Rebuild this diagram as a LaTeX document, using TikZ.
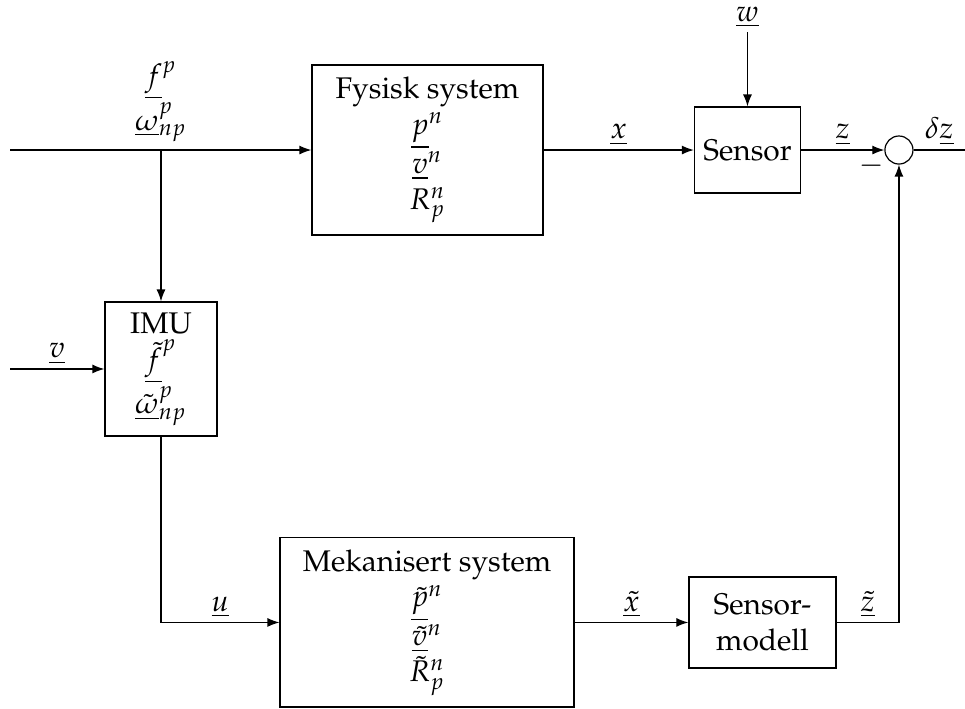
\documentclass[tikz,border=0pt]{standalone}
\usepackage[T1]{fontenc}
\usepackage{amsmath,amssymb}
\usepackage{mathpazo}
\usepackage{tikz}
\usetikzlibrary{arrows.meta,positioning}

\begin{document}
\begin{tikzpicture}[
    every node/.style={font=\normalsize},
    block/.style={
        rectangle,
        draw=black,
        fill=white,
        line width=0.4pt,
        align=center,
        inner sep=3pt
    },
    stack/.style={
        block,
        inner ysep=1pt,
        execute at begin node={\rule{0pt}{11pt}}
    },
    signal/.style={
        inner sep=1.5pt,
        align=center
    },
    junction/.style={
        circle,
        draw=black,
        line width=0.4pt,
        minimum size=0.33cm,
        inner sep=0pt
    },
    arrow/.style={
        -{Latex[length=4pt,width=3pt]},
        line width=0.4pt
    },
    wire/.style={
        line width=0.4pt
    }
]

\useasboundingbox (0,0) rectangle (11.353,8.341);

\node[stack, minimum width=2.718cm, minimum height=2cm] (fysisk) at (5.029,6.576) {
Fysisk system\\
$\underline{p}^n$\\
$\underline{v}^n$\\
$R^n_p$
};

\node[block, minimum width=1.235cm, minimum height=1.012cm] (sensor) at (8.794,6.576) {Sensor};

\node[junction] (sum) at (10.576,6.576) {};

\node[stack, minimum width=1.318cm, minimum height=1.576cm] (imu) at (1.894,4.0) {
IMU\\
$\underline{\tilde{f}}^p$\\
$\underline{\tilde{\omega}}^p_{np}$
};

\node[stack, minimum width=3.459cm, minimum height=1.99cm] (meka) at (5.024,1.018) {
Mekanisert system\\
$\underline{\tilde{p}}^n$\\
$\underline{\tilde{v}}^n$\\
$\tilde{R}^n_p$
};

\node[block, minimum width=1.73cm, minimum height=1.07cm] (smodell) at (8.97,1.018) {
Sensor-\\
modell
};

\coordinate (inn) at (0.118,6.576);
\coordinate (split) at (imu.north |- inn);
\coordinate (vinn) at (0.118,4.0);
\coordinate (ut) at (11.353,6.576);

\node[signal, above=1pt of split] (flab) {$\underline{f}^p$\\ $\underline{\omega}^p_{np}$};
\node[signal] (wlab) at (8.794,8.141) {$\underline{w}$};
\node[inner sep=0pt, below left=1.5pt and 0pt of sum.west] (minus) {$-$};

\draw[arrow] (inn) -- (fysisk.west);
\draw[arrow] (split) -- (imu.north);
\draw[arrow] (vinn) -- node[signal, above] (vlab) {$\underline{v}$} (imu.west);
\draw[arrow] (imu.south) |- node[signal, above, pos=0.75] (ulab) {$\underline{u}$} (meka.west);
\draw[arrow] (fysisk.east) -- node[signal, above] (xlab) {$\underline{x}$} (sensor.west);
\draw[arrow] (wlab) -- (sensor.north);
\draw[arrow] (sensor.east) -- node[signal, above] (zlab) {$\underline{z}$} (sum.west);
\draw[wire] (sum.east) -- node[signal, above] (dzlab) {$\delta\underline{z}$} (ut);
\draw[arrow] (meka.east) -- node[signal, above] (xtlab) {$\underline{\tilde{x}}$} (smodell.west);
\draw[arrow] (smodell.east) -| node[signal, above, pos=0.25] (ztlab) {$\underline{\tilde{z}}$} (sum.south);

\end{tikzpicture}
\end{document}
